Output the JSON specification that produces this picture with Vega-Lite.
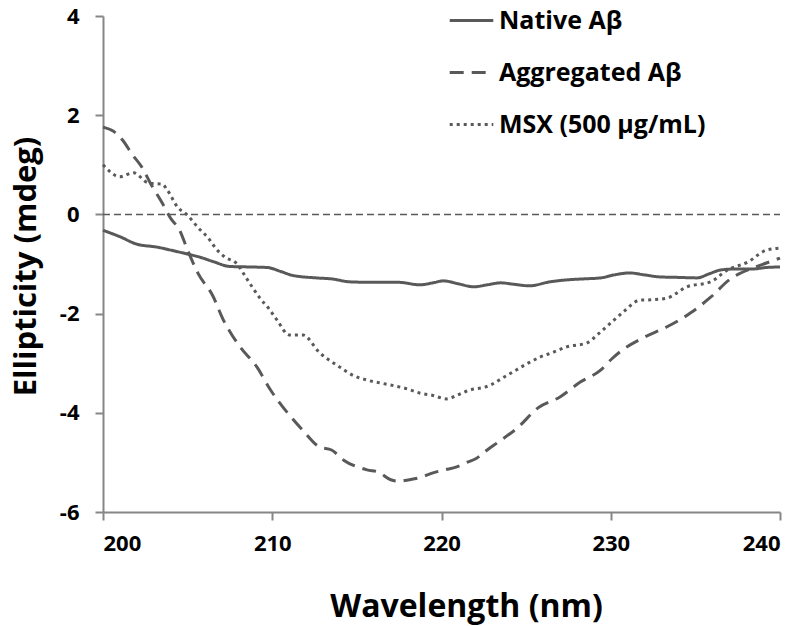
{
  "$schema": "https://vega.github.io/schema/vega-lite/v6.json",
  "autosize": "none",
  "width": 677,
  "height": 496,
  "padding": {"left": 103, "top": 16, "right": 20, "bottom": 114},
  "background": "white",
  "config": {"view": {"stroke": null}, "font": "Open Sans"},
  "datasets": {
    "cd": [
      {"series": "Native Aβ", "wl": 200, "v": -0.32},
      {"series": "Native Aβ", "wl": 201, "v": -0.45},
      {"series": "Native Aβ", "wl": 202, "v": -0.6},
      {"series": "Native Aβ", "wl": 203.2, "v": -0.66},
      {"series": "Native Aβ", "wl": 204, "v": -0.72},
      {"series": "Native Aβ", "wl": 205, "v": -0.8},
      {"series": "Native Aβ", "wl": 205.7, "v": -0.86},
      {"series": "Native Aβ", "wl": 206.5, "v": -0.95},
      {"series": "Native Aβ", "wl": 207.5, "v": -1.05},
      {"series": "Native Aβ", "wl": 208.7, "v": -1.06},
      {"series": "Native Aβ", "wl": 209.7, "v": -1.07},
      {"series": "Native Aβ", "wl": 210.5, "v": -1.15},
      {"series": "Native Aβ", "wl": 211.2, "v": -1.23},
      {"series": "Native Aβ", "wl": 212.6, "v": -1.28},
      {"series": "Native Aβ", "wl": 213.5, "v": -1.3},
      {"series": "Native Aβ", "wl": 214.6, "v": -1.36},
      {"series": "Native Aβ", "wl": 216, "v": -1.37},
      {"series": "Native Aβ", "wl": 217.5, "v": -1.37},
      {"series": "Native Aβ", "wl": 218.7, "v": -1.42},
      {"series": "Native Aβ", "wl": 219.5, "v": -1.38},
      {"series": "Native Aβ", "wl": 220.1, "v": -1.34},
      {"series": "Native Aβ", "wl": 221, "v": -1.4},
      {"series": "Native Aβ", "wl": 221.9, "v": -1.46},
      {"series": "Native Aβ", "wl": 222.7, "v": -1.42},
      {"series": "Native Aβ", "wl": 223.5, "v": -1.38},
      {"series": "Native Aβ", "wl": 224.3, "v": -1.41},
      {"series": "Native Aβ", "wl": 225.2, "v": -1.44},
      {"series": "Native Aβ", "wl": 226.4, "v": -1.36},
      {"series": "Native Aβ", "wl": 227.4, "v": -1.32},
      {"series": "Native Aβ", "wl": 228.4, "v": -1.3},
      {"series": "Native Aβ", "wl": 229.4, "v": -1.28},
      {"series": "Native Aβ", "wl": 230.2, "v": -1.22},
      {"series": "Native Aβ", "wl": 231.1, "v": -1.18},
      {"series": "Native Aβ", "wl": 232, "v": -1.22},
      {"series": "Native Aβ", "wl": 232.9, "v": -1.26},
      {"series": "Native Aβ", "wl": 234, "v": -1.27},
      {"series": "Native Aβ", "wl": 235.1, "v": -1.28},
      {"series": "Native Aβ", "wl": 235.8, "v": -1.2},
      {"series": "Native Aβ", "wl": 236.5, "v": -1.12},
      {"series": "Native Aβ", "wl": 237.4, "v": -1.1},
      {"series": "Native Aβ", "wl": 238.4, "v": -1.1},
      {"series": "Native Aβ", "wl": 239.2, "v": -1.07},
      {"series": "Native Aβ", "wl": 240, "v": -1.06},

      {"series": "Aggregated Aβ", "wl": 200, "v": 1.76},
      {"series": "Aggregated Aβ", "wl": 200.6, "v": 1.68},
      {"series": "Aggregated Aβ", "wl": 201.2, "v": 1.48},
      {"series": "Aggregated Aβ", "wl": 201.7, "v": 1.22},
      {"series": "Aggregated Aβ", "wl": 202.3, "v": 0.95},
      {"series": "Aggregated Aβ", "wl": 202.8, "v": 0.63},
      {"series": "Aggregated Aβ", "wl": 203.5, "v": 0.23},
      {"series": "Aggregated Aβ", "wl": 204, "v": -0.08},
      {"series": "Aggregated Aβ", "wl": 204.5, "v": -0.3},
      {"series": "Aggregated Aβ", "wl": 205, "v": -0.72},
      {"series": "Aggregated Aβ", "wl": 205.6, "v": -1.18},
      {"series": "Aggregated Aβ", "wl": 206.5, "v": -1.65},
      {"series": "Aggregated Aβ", "wl": 207.1, "v": -2.12},
      {"series": "Aggregated Aβ", "wl": 207.6, "v": -2.42},
      {"series": "Aggregated Aβ", "wl": 208.1, "v": -2.67},
      {"series": "Aggregated Aβ", "wl": 209.1, "v": -3.08},
      {"series": "Aggregated Aβ", "wl": 209.9, "v": -3.54},
      {"series": "Aggregated Aβ", "wl": 210.9, "v": -4.0},
      {"series": "Aggregated Aβ", "wl": 211.8, "v": -4.35},
      {"series": "Aggregated Aβ", "wl": 212.8, "v": -4.69},
      {"series": "Aggregated Aβ", "wl": 213.5, "v": -4.75},
      {"series": "Aggregated Aβ", "wl": 214.2, "v": -4.95},
      {"series": "Aggregated Aβ", "wl": 215.6, "v": -5.15},
      {"series": "Aggregated Aβ", "wl": 216.3, "v": -5.2},
      {"series": "Aggregated Aβ", "wl": 217, "v": -5.35},
      {"series": "Aggregated Aβ", "wl": 217.5, "v": -5.38},
      {"series": "Aggregated Aβ", "wl": 218.1, "v": -5.35},
      {"series": "Aggregated Aβ", "wl": 218.8, "v": -5.3},
      {"series": "Aggregated Aβ", "wl": 219.5, "v": -5.21},
      {"series": "Aggregated Aβ", "wl": 220.2, "v": -5.15},
      {"series": "Aggregated Aβ", "wl": 220.9, "v": -5.09},
      {"series": "Aggregated Aβ", "wl": 221.5, "v": -5.0},
      {"series": "Aggregated Aβ", "wl": 222.1, "v": -4.91},
      {"series": "Aggregated Aβ", "wl": 222.7, "v": -4.75},
      {"series": "Aggregated Aβ", "wl": 223.4, "v": -4.58},
      {"series": "Aggregated Aβ", "wl": 224.5, "v": -4.3},
      {"series": "Aggregated Aβ", "wl": 225.7, "v": -3.9},
      {"series": "Aggregated Aβ", "wl": 227, "v": -3.68},
      {"series": "Aggregated Aβ", "wl": 228.2, "v": -3.38},
      {"series": "Aggregated Aβ", "wl": 229.4, "v": -3.14},
      {"series": "Aggregated Aβ", "wl": 230.1, "v": -2.9},
      {"series": "Aggregated Aβ", "wl": 230.7, "v": -2.73},
      {"series": "Aggregated Aβ", "wl": 231.9, "v": -2.49},
      {"series": "Aggregated Aβ", "wl": 233.3, "v": -2.27},
      {"series": "Aggregated Aβ", "wl": 234.7, "v": -1.99},
      {"series": "Aggregated Aβ", "wl": 235.9, "v": -1.67},
      {"series": "Aggregated Aβ", "wl": 237, "v": -1.32},
      {"series": "Aggregated Aβ", "wl": 238.4, "v": -1.08},
      {"series": "Aggregated Aβ", "wl": 239.2, "v": -0.98},
      {"series": "Aggregated Aβ", "wl": 240, "v": -0.88},

      {"series": "MSX (500 μg/mL)", "wl": 200, "v": 1.0},
      {"series": "MSX (500 μg/mL)", "wl": 201, "v": 0.76},
      {"series": "MSX (500 μg/mL)", "wl": 201.8, "v": 0.84},
      {"series": "MSX (500 μg/mL)", "wl": 202.7, "v": 0.63},
      {"series": "MSX (500 μg/mL)", "wl": 203.5, "v": 0.61},
      {"series": "MSX (500 μg/mL)", "wl": 203.8, "v": 0.49},
      {"series": "MSX (500 μg/mL)", "wl": 204.4, "v": 0.15},
      {"series": "MSX (500 μg/mL)", "wl": 205, "v": -0.02},
      {"series": "MSX (500 μg/mL)", "wl": 205.6, "v": -0.26},
      {"series": "MSX (500 μg/mL)", "wl": 206.2, "v": -0.47},
      {"series": "MSX (500 μg/mL)", "wl": 206.7, "v": -0.7},
      {"series": "MSX (500 μg/mL)", "wl": 207.2, "v": -0.86},
      {"series": "MSX (500 μg/mL)", "wl": 207.9, "v": -0.99},
      {"series": "MSX (500 μg/mL)", "wl": 208.5, "v": -1.3},
      {"series": "MSX (500 μg/mL)", "wl": 209.3, "v": -1.7},
      {"series": "MSX (500 μg/mL)", "wl": 209.8, "v": -1.9},
      {"series": "MSX (500 μg/mL)", "wl": 210.3, "v": -2.14},
      {"series": "MSX (500 μg/mL)", "wl": 211, "v": -2.43},
      {"series": "MSX (500 μg/mL)", "wl": 211.8, "v": -2.43},
      {"series": "MSX (500 μg/mL)", "wl": 212.8, "v": -2.79},
      {"series": "MSX (500 μg/mL)", "wl": 214, "v": -3.08},
      {"series": "MSX (500 μg/mL)", "wl": 214.8, "v": -3.25},
      {"series": "MSX (500 μg/mL)", "wl": 215.6, "v": -3.34},
      {"series": "MSX (500 μg/mL)", "wl": 217, "v": -3.44},
      {"series": "MSX (500 μg/mL)", "wl": 218, "v": -3.52},
      {"series": "MSX (500 μg/mL)", "wl": 218.7, "v": -3.6},
      {"series": "MSX (500 μg/mL)", "wl": 219.5, "v": -3.65},
      {"series": "MSX (500 μg/mL)", "wl": 220.3, "v": -3.72},
      {"series": "MSX (500 μg/mL)", "wl": 220.9, "v": -3.65},
      {"series": "MSX (500 μg/mL)", "wl": 221.5, "v": -3.56},
      {"series": "MSX (500 μg/mL)", "wl": 222.9, "v": -3.44},
      {"series": "MSX (500 μg/mL)", "wl": 223.6, "v": -3.3},
      {"series": "MSX (500 μg/mL)", "wl": 224.2, "v": -3.18},
      {"series": "MSX (500 μg/mL)", "wl": 225, "v": -3.02},
      {"series": "MSX (500 μg/mL)", "wl": 225.8, "v": -2.88},
      {"series": "MSX (500 μg/mL)", "wl": 226.6, "v": -2.78},
      {"series": "MSX (500 μg/mL)", "wl": 227.4, "v": -2.67},
      {"series": "MSX (500 μg/mL)", "wl": 228.6, "v": -2.59},
      {"series": "MSX (500 μg/mL)", "wl": 229.3, "v": -2.4},
      {"series": "MSX (500 μg/mL)", "wl": 230, "v": -2.19},
      {"series": "MSX (500 μg/mL)", "wl": 230.8, "v": -1.95},
      {"series": "MSX (500 μg/mL)", "wl": 231.7, "v": -1.73},
      {"series": "MSX (500 μg/mL)", "wl": 232.5, "v": -1.72},
      {"series": "MSX (500 μg/mL)", "wl": 233.3, "v": -1.69},
      {"series": "MSX (500 μg/mL)", "wl": 234.5, "v": -1.46},
      {"series": "MSX (500 μg/mL)", "wl": 235.9, "v": -1.36},
      {"series": "MSX (500 μg/mL)", "wl": 236.9, "v": -1.12},
      {"series": "MSX (500 μg/mL)", "wl": 238.1, "v": -0.96},
      {"series": "MSX (500 μg/mL)", "wl": 239.2, "v": -0.72},
      {"series": "MSX (500 μg/mL)", "wl": 240, "v": -0.68}
    ]
  },
  "encoding": {
    "x": {
      "field": "wl", "type": "quantitative",
      "scale": {"domain": [200, 240], "nice": false, "zero": false},
      "axis": {
        "title": "Wavelength (nm)", "values": [200, 210, 220, 230, 240],
        "grid": false, "domainColor": "#868686", "domainWidth": 2,
        "tickColor": "#868686", "tickWidth": 2, "tickSize": 8,
        "labelFont": "Open Sans", "labelFontWeight": "bold", "labelFontSize": 22, "labelColor": "#000000",
        "labelPadding": 13,
        "titleFont": "Open Sans", "titleFontWeight": "bold", "titleFontSize": 32, "titleColor": "#000000",
        "titleX": 363, "titleY": 104, "titleBaseline": "alphabetic", "titleAlign": "center"
      }
    },
    "y": {
      "field": "v", "type": "quantitative",
      "scale": {"domain": [-6, 4], "nice": false, "zero": false},
      "axis": {
        "title": "Ellipticity (mdeg)", "values": [-6, -4, -2, 0, 2, 4],
        "labelExpr": "'' + datum.value",
        "grid": false, "domainColor": "#868686", "domainWidth": 2,
        "tickColor": "#868686", "tickWidth": 2, "tickSize": 8,
        "labelFont": "Open Sans", "labelFontWeight": "bold", "labelFontSize": 22, "labelColor": "#000000",
        "labelPadding": 16,
        "titleFont": "Open Sans", "titleFontWeight": "bold", "titleFontSize": 31, "titleColor": "#000000",
        "titleAngle": -90, "titleX": -68, "titleY": 250, "titleBaseline": "alphabetic", "titleAlign": "center"
      }
    }
  },
  "layer": [
    {
      "data": {"values": [{"y0": 0}]},
      "mark": {"type": "rule", "color": "#595959", "strokeWidth": 1.5, "strokeDash": [7, 4]},
      "encoding": {"y": {"field": "y0", "type": "quantitative"}, "x": {"value": 0}, "x2": {"value": 677}}
    },
    {
      "data": {"name": "cd"},
      "mark": {"type": "line", "color": "#595959", "strokeWidth": 3, "interpolate": "monotone"},
      "encoding": {
        "detail": {"field": "series", "type": "nominal"},
        "strokeDash": {
          "field": "series", "type": "nominal",
          "scale": {"domain": ["Native Aβ", "Aggregated Aβ", "MSX (500 μg/mL)"], "range": [[1, 0], [14, 8], [3, 4]]},
          "legend": {
            "title": null, "orient": "none", "legendX": 345, "legendY": -19,
            "symbolType": "stroke", "symbolSize": 1900, "symbolStrokeWidth": 3, "symbolStrokeColor": "#595959",
            "labelFont": "Open Sans", "labelFontWeight": "bold", "labelFontSize": 25, "labelColor": "#000000",
            "labelLimit": 400, "labelOffset": 4, "rowPadding": 15, "symbolOffset": 0
          }
        }
      }
    }
  ]
}
